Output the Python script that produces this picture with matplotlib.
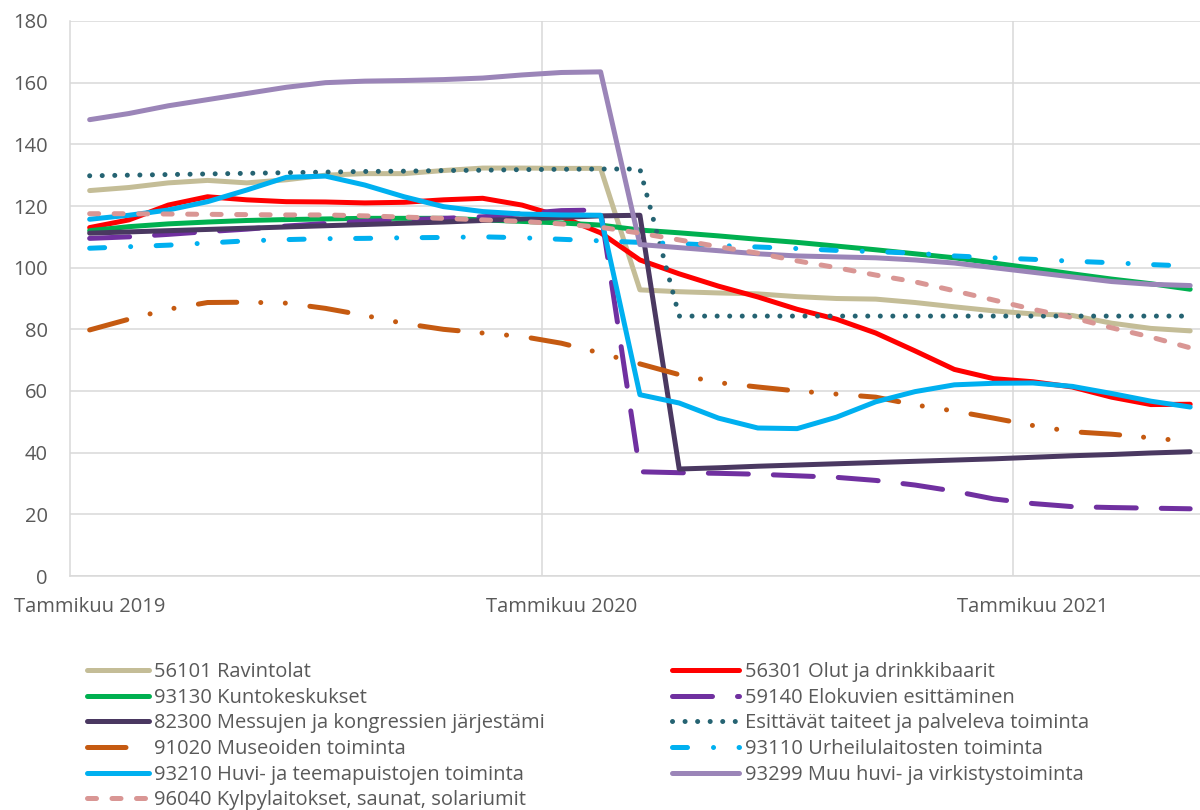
import matplotlib.pyplot as plt

plt.rcParams['font.family'] = ['Open Sans', 'DejaVu Sans']

# kuukaudet tammikuu 2019 - toukokuu 2021
months = list(range(29))
tick_pos = [0, 12, 24]
tick_labels = ['Tammikuu 2019', 'Tammikuu 2020', 'Tammikuu 2021']

ravintolat = [125, 126, 127.5, 128.3, 127.5, 128.5, 130, 130.5, 130.5, 131.5, 132.3, 132.3, 132.2, 132.2,
              92.8, 92.2, 91.8, 91.5, 90.6, 90, 89.8, 88.7, 87.3, 86, 85, 84.5, 82, 80.3, 79.5]
olut = [113, 115.5, 120.3, 123, 122, 121.4, 121.3, 121, 121.2, 122, 122.5, 120.3, 116.5, 111.3,
        102.5, 98, 94, 90.5, 86.5, 83.3, 78.8, 73, 67, 64, 63, 61.3, 58, 55.6, 55.7]
kunto = [112, 113.3, 114.2, 114.8, 115.3, 115.6, 115.8, 116, 116, 116, 115.5, 115, 114.5, 113.8,
         112.2, 111.3, 110.3, 109.2, 108.2, 107, 105.8, 104.5, 103.2, 101.5, 99.8, 98, 96.3, 94.8, 93]
elokuvat = [109.5, 110, 110.8, 111.7, 112.5, 113.5, 114.3, 115, 115.5, 116, 116.5, 117.5, 118.5, 118.7,
            33.8, 33.5, 33.3, 33, 32.5, 32, 31, 29.5, 27.5, 25, 23.5, 22.5, 22.2, 22, 21.8]
messut = [111.2, 111.6, 112, 112.4, 112.8, 113.2, 113.6, 114, 114.4, 114.8, 115.3, 115.8, 116.3, 116.8,
          117, 34.7, 35.1, 35.6, 36, 36.4, 36.8, 37.2, 37.6, 38, 38.5, 39, 39.4, 39.9, 40.3]
esittavat = [129.8, 130, 130.2, 130.4, 130.6, 130.8, 131, 131.2, 131.3, 131.5, 131.6, 131.8, 131.9, 132,
             132, 84.3, 84.3, 84.3, 84.3, 84.3, 84.3, 84.3, 84.3, 84.3, 84.3, 84.3, 84.3, 84.3, 84.3]
museot = [79.8, 83.3, 86.5, 88.7, 88.8, 88.5, 86.8, 84.5, 81.9, 80, 78.8, 77.7, 75.5, 72.3,
          68.8, 65.3, 62.7, 61.3, 60, 59, 58, 55.5, 53.5, 51.2, 48.8, 46.8, 46, 44.8, 43.6]
urheilu = [106.3, 106.8, 107.3, 108, 108.7, 109.1, 109.4, 109.5, 109.7, 109.8, 110, 109.7, 109.2, 108.7,
           108.2, 107.8, 107.2, 106.7, 106.2, 105.6, 105.2, 104.7, 103.8, 103.2, 102.7, 102.1, 101.6, 101, 100.5]
huvipuistot = [115.7, 117, 118.7, 121.4, 125.2, 129.3, 129.7, 126.8, 123, 119.8, 118.2, 117.4, 117.1, 117,
               58.8, 56.1, 51.2, 48, 47.8, 51.5, 56.5, 59.8, 62, 62.5, 62.6, 61.5, 59.2, 56.7, 54.8]
muu_huvi = [148, 150, 152.5, 154.5, 156.5, 158.5, 160, 160.5, 160.7, 161, 161.5, 162.5, 163.3, 163.5,
            107.5, 106.5, 105.5, 104.5, 103.8, 103.5, 103.2, 102.5, 101.5, 100, 98.5, 97, 95.5, 94.6, 94.2]
kylpylat = [117.5, 117.5, 117.4, 117.3, 117.2, 117.1, 117.1, 116.8, 116.4, 116, 115.5, 115, 114.2, 113.1,
            111.2, 109, 106.8, 104.7, 102.2, 100, 97.6, 95.4, 92.5, 89.5, 86.5, 83.8, 80.5, 77.5, 74]

# (nimi, data, väri, viivatyyli) piirtojärjestyksessä
series = [
    ('56101 Ravintolat', ravintolat, '#C4BD97', '-'),
    ('56301 Olut ja drinkkibaarit', olut, '#FF0000', '-'),
    ('93130 Kuntokeskukset', kunto, '#00B050', '-'),
    ('59140 Elokuvien esittäminen', elokuvat, '#7030A0', (0, (8, 5))),
    ('82300 Messujen ja kongressien järjestämi', messut, '#4A3861', '-'),
    ('Esittävät taiteet ja palveleva toiminta', esittavat, '#256372', (0, (0.01, 2.5))),
    ('91020 Museoiden toiminta', museot, '#C55A11', (0, (7.7, 4.8, 0.01, 4.9, 0.01, 4.95))),
    ('93110 Urheilulaitosten toiminta', urheilu, '#00B0F0', (0, (3.0, 5.2, 0.01, 5.1))),
    ('93210 Huvi- ja teemapuistojen toiminta', huvipuistot, '#00B0F0', '-'),
    ('93299 Muu huvi- ja virkistystoiminta', muu_huvi, '#9B85B8', '-'),
    ('96040 Kylpylaitokset, saunat, solariumit', kylpylat, '#D99694', (0, (1.8, 3.1))),
]

fig = plt.figure(figsize=(12, 8.1), dpi=100)
ax = fig.add_axes([70 / 1200, 1 - 576 / 810, 1 - 70 / 1200, (576 - 21) / 810])

handles = []
for name, data, color, ls in series:
    line, = ax.plot(months, data, color=color, linestyle=ls, linewidth=3.6,
                    solid_capstyle='round', dash_capstyle='round',
                    solid_joinstyle='round', label=name)
    handles.append(line)

ax.set_xlim(-0.5, 28.25)
ax.set_ylim(0, 180)
ax.set_yticks(range(0, 181, 20))
ax.set_xticks(tick_pos)
ax.set_xticklabels(tick_labels)
ax.set_xticks([11.5, 23.5], minor=True)

grid_c = '#D9D9D9'
ax.grid(axis='y', color=grid_c, linewidth=1.1)
ax.grid(axis='x', which='minor', color=grid_c, linewidth=1.1)
ax.set_axisbelow(True)
for side in ['top', 'right']:
    ax.spines[side].set_visible(False)
for side in ['left', 'bottom']:
    ax.spines[side].set_color(grid_c)
    ax.spines[side].set_linewidth(1.1)

fs = 14.5
ax.tick_params(axis='both', which='both', length=0, labelsize=fs, labelcolor='#595959')
ax.tick_params(axis='y', pad=16)
ax.tick_params(axis='x', pad=15)

# legenda kahteen sarakkeeseen (Excelin rivijärjestys)
left = handles[0::2]
right = handles[1::2]
common = dict(loc='upper left', frameon=False, fontsize=fs, labelcolor='#595959',
              borderpad=0, borderaxespad=0, handletextpad=0.25, labelspacing=0.28)
leg1 = fig.legend(handles=left, bbox_to_anchor=(87 / 1200, 1 - 662 / 810),
                  handlelength=3.1, **common)
leg2 = fig.legend(handles=right, bbox_to_anchor=(672 / 1200, 1 - 662 / 810),
                  handlelength=3.35, **common)

fig.savefig('out.png', dpi=100)
